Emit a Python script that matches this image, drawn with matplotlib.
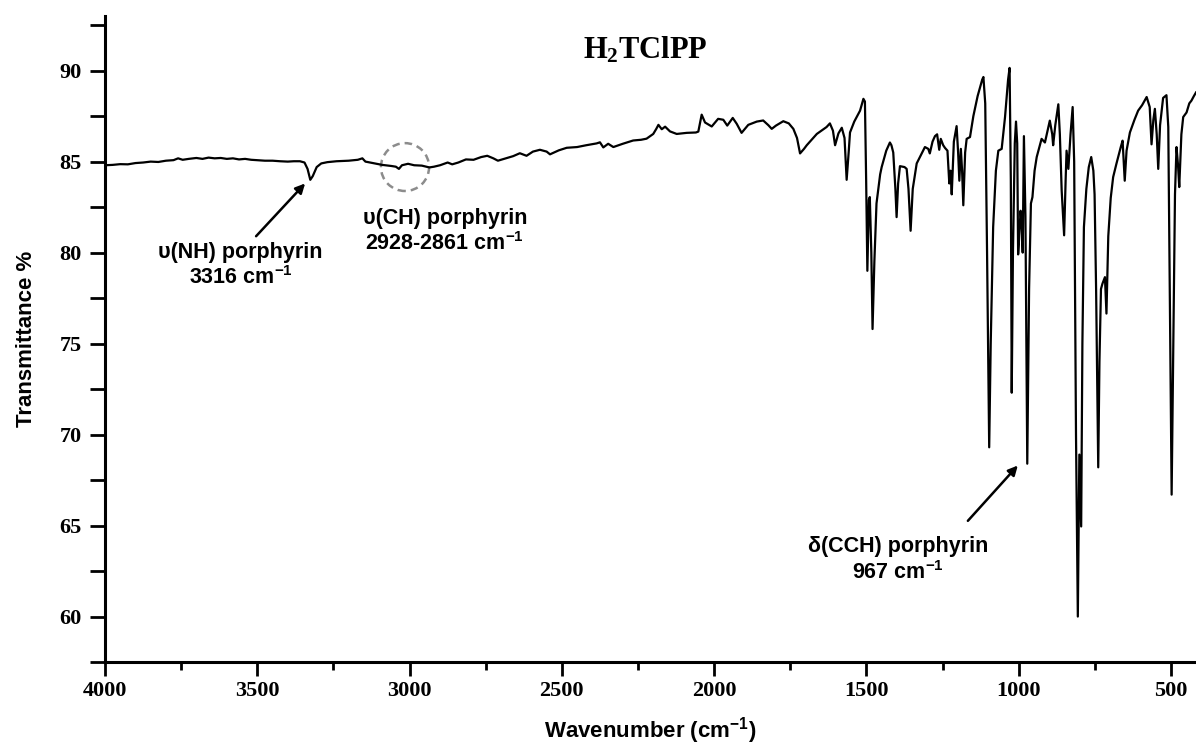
import matplotlib
matplotlib.use('Agg')
import matplotlib.pyplot as plt
import numpy as np
from matplotlib.patches import Ellipse
from matplotlib.ticker import MultipleLocator

# FT-IR spectrum of H2TClPP
# high wavenumber region (4000 - 1550 cm-1)
wn_high = [4000, 3975, 3950, 3925, 3900, 3875, 3850, 3825, 3800, 3775, 3760, 3745,
           3725, 3700, 3680, 3660, 3640, 3620, 3600, 3580, 3560, 3540, 3520, 3500,
           3475, 3450, 3425, 3400, 3380, 3360, 3345, 3335, 3326, 3318, 3305, 3290,
           3270, 3240, 3200, 3170, 3155, 3145, 3120, 3090, 3060, 3045, 3035, 3025,
           3005, 2985, 2960, 2935, 2920, 2900, 2875, 2860, 2840, 2815, 2790, 2765,
           2745, 2725, 2710, 2690, 2660, 2638, 2616, 2595, 2572, 2550, 2539, 2510,
           2484, 2450, 2420, 2386, 2375, 2364, 2348, 2331, 2300, 2266, 2240, 2222,
           2200, 2190, 2183, 2172, 2161, 2145, 2123, 2090, 2060, 2052, 2041, 2030,
           2008, 1987, 1970, 1957, 1939, 1926, 1910, 1888, 1860, 1839, 1822, 1811,
           1797, 1773, 1755, 1740, 1728, 1718, 1705, 1696, 1663, 1631, 1620, 1610,
           1603, 1592, 1581, 1572, 1565, 1558, 1554]
t_high = [84.80, 84.82, 84.86, 84.85, 84.92, 84.95, 85.00, 84.98, 85.05, 85.08, 85.18, 85.10,
          85.15, 85.20, 85.15, 85.22, 85.18, 85.20, 85.15, 85.18, 85.12, 85.15, 85.10, 85.08,
          85.05, 85.05, 85.02, 85.00, 85.02, 85.02, 84.95, 84.60, 84.00, 84.20, 84.70, 84.90,
          84.97, 85.02, 85.05, 85.10, 85.18, 85.00, 84.92, 84.82, 84.76, 84.72, 84.60, 84.80,
          84.88, 84.80, 84.78, 84.68, 84.72, 84.80, 84.95, 84.85, 84.95, 85.12, 85.10, 85.25,
          85.32, 85.18, 85.05, 85.15, 85.30, 85.46, 85.32, 85.55, 85.65, 85.55, 85.40, 85.62,
          85.76, 85.80, 85.90, 86.00, 86.06, 85.78, 85.98, 85.80, 85.98, 86.16, 86.20, 86.26,
          86.52, 86.80, 87.02, 86.78, 86.92, 86.66, 86.52, 86.58, 86.60, 86.65, 87.58, 87.15,
          86.93, 87.35, 87.30, 86.98, 87.40, 87.08, 86.58, 87.02, 87.20, 87.26, 87.00, 86.80,
          86.98, 87.22, 87.10, 86.80, 86.30, 85.45, 85.70, 85.90, 86.52, 86.90, 87.10, 86.70,
          85.90, 86.55, 86.86, 86.30, 84.00, 85.60, 86.60]

# fingerprint region (1550 - 418 cm-1)
wn_low = [1540, 1521, 1510, 1505, 1501, 1497, 1492, 1489, 1484, 1480, 1474, 1467,
          1455, 1450, 1435, 1423, 1418, 1412, 1405, 1401, 1396, 1390, 1375, 1368,
          1362, 1355, 1348, 1335, 1320, 1308, 1297, 1292, 1283, 1275, 1268, 1261,
          1256, 1248, 1242, 1234, 1228, 1224, 1220, 1213, 1204, 1199, 1195, 1190,
          1186, 1182, 1176, 1171, 1160, 1149, 1135, 1120, 1116, 1110, 1104, 1097,
          1092, 1084, 1075, 1067, 1056, 1045, 1035, 1030, 1026, 1023, 1019, 1013,
          1009, 1005, 1002, 998, 994, 990, 987, 983, 978, 972, 966, 960,
          955, 948, 941, 925, 914, 898, 890, 887, 880, 870, 865, 859,
          851, 846, 843, 837, 830, 823, 818, 812, 806, 801, 798, 795,
          791, 786, 778, 770, 762, 755, 751, 746, 739, 735, 730, 725,
          717, 712, 706, 698, 690, 679, 665, 659, 652, 646, 635, 620,
          608, 595, 580, 570, 564, 558, 553, 547, 542, 536, 526, 515,
          509, 504, 498, 492, 487, 482, 477, 473, 466, 460, 449, 440,
          433, 425, 418]
t_low = [87.20, 87.80, 88.45, 88.30, 84.00, 79.00, 82.90, 83.05, 80.00, 75.80, 79.50, 82.70,
         84.30, 84.70, 85.60, 86.05, 85.90, 85.50, 83.50, 81.95, 83.80, 84.75, 84.70, 84.60,
         83.50, 81.20, 83.50, 84.90, 85.40, 85.80, 85.70, 85.45, 86.10, 86.40, 86.50, 85.65,
         86.25, 85.90, 85.75, 85.60, 83.80, 84.50, 83.20, 86.10, 86.95, 85.50, 83.95, 85.70,
         84.50, 82.60, 85.50, 86.25, 86.35, 87.50, 88.60, 89.50, 89.65, 88.20, 80.00, 69.30,
         75.00, 81.40, 84.50, 85.60, 85.70, 87.45, 89.50, 90.15, 84.00, 72.30, 80.00, 86.00,
         87.20, 86.00, 79.90, 81.00, 82.30, 81.50, 80.00, 86.40, 82.00, 68.40, 78.00, 82.70,
         83.05, 84.50, 85.25, 86.25, 86.05, 87.25, 86.50, 85.90, 87.00, 88.15, 86.50, 83.40,
         80.95, 84.00, 85.60, 84.60, 86.50, 88.00, 85.00, 70.00, 60.00, 68.90, 67.00, 64.95,
         75.00, 81.40, 83.50, 84.70, 85.25, 84.50, 83.20, 78.00, 68.20, 74.00, 78.00, 78.30,
         78.65, 76.65, 80.90, 83.00, 84.15, 84.90, 85.80, 86.15, 83.95, 85.60, 86.60, 87.30,
         87.80, 88.10, 88.55, 88.00, 85.95, 87.30, 87.90, 86.50, 84.60, 87.00, 88.50, 88.65,
         86.90, 78.00, 66.70, 76.00, 83.20, 85.80, 84.80, 83.60, 86.50, 87.45, 87.70, 88.20,
         88.35, 88.60, 88.80]

wavenumber = np.array(wn_high + wn_low)
transmittance = np.array(t_high + t_low)

plt.rcParams['mathtext.default'] = 'regular'
plt.rcParams['axes.unicode_minus'] = False
serif = ['Liberation Serif', 'DejaVu Serif']
sans = ['Liberation Sans', 'DejaVu Sans']

fig = plt.figure(figsize=(11.96, 7.49), dpi=100)
ax = fig.add_axes([0.0878, 0.1161, 0.9122, 0.8625])

ax.plot(wavenumber, transmittance, color='black', lw=1.6)

ax.set_xlim(4000, 418)
ax.set_ylim(57.5, 93)

# spines and ticks
for side in ['top', 'right']:
    ax.spines[side].set_visible(False)
for side in ['left', 'bottom']:
    ax.spines[side].set_linewidth(2.2)

ax.xaxis.set_major_locator(MultipleLocator(500))
ax.xaxis.set_minor_locator(MultipleLocator(250))
ax.yaxis.set_major_locator(MultipleLocator(5))
ax.yaxis.set_minor_locator(MultipleLocator(2.5))
ax.tick_params(axis='x', which='major', direction='out', length=10, width=2, pad=4)
ax.tick_params(axis='x', which='minor', direction='out', length=6, width=2)
ax.tick_params(axis='y', which='both', direction='out', length=11, width=2, pad=6)

for lab in ax.get_xticklabels() + ax.get_yticklabels():
    lab.set_family(serif)
    lab.set_fontweight('bold')
    lab.set_fontsize(16)

ax.set_xlabel('Wavenumber (cm$^{-1}$)', family=sans, fontweight='bold', fontsize=16, labelpad=10)
ax.set_ylabel('Transmittance %', family=sans, fontweight='bold', fontsize=16, labelpad=16)

# title inside the plot
ax.text(2227, 91.1, 'H$_2$TClPP', family=serif, fontweight='bold', fontsize=22,
        ha='center', va='center')

# peak annotations
arrow = dict(arrowstyle='-|>', color='black', lw=1.8, mutation_scale=14, shrinkA=0, shrinkB=0)
ax.text(3555, 79.3, 'υ(NH) porphyrin\n3316 cm$^{-1}$', ha='center', va='center',
        family=sans, fontweight='bold', fontsize=15.5)
ax.annotate('', xy=(3343, 83.8), xytext=(3504, 80.9), arrowprops=arrow)

ax.text(2884, 81.15, 'υ(CH) porphyrin\n2928-2861 cm$^{-1}$', ha='center', va='center',
        family=sans, fontweight='bold', fontsize=15.5)
ax.add_patch(Ellipse((3015, 84.7), 158, 2.63, fill=False, edgecolor='#8c8c8c',
                     lw=1.8, ls=(0, (3, 2))))

ax.text(1397, 63.1, 'δ(CCH) porphyrin\n967 cm$^{-1}$', ha='center', va='center',
        family=sans, fontweight='bold', fontsize=15.5)
ax.annotate('', xy=(1003, 68.3), xytext=(1167, 65.26), arrowprops=arrow)

fig.savefig('out.png', dpi=100)
